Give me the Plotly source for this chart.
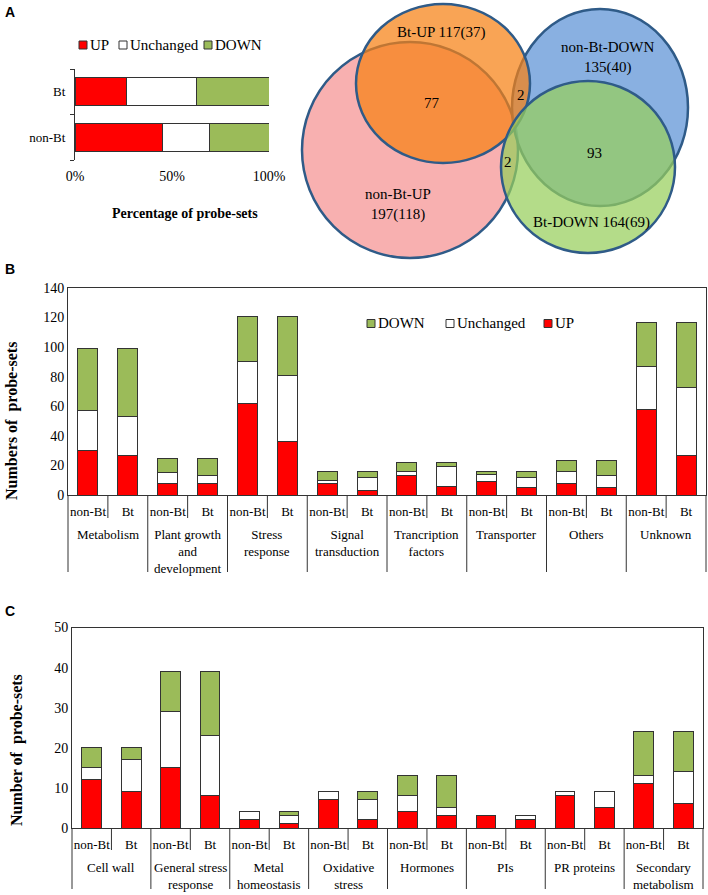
import plotly.graph_objects as go

# ---------------- data ----------------
# Panel A: percentage of probe-sets
a_cats = ["non-Bt", "Bt"]
a_up = [45.0, 26.4]
a_unch = [24.4, 36.3]
a_down = [30.6, 37.3]
a_ticks = [0, 50, 100]
a_ticktext = ["0%", "50%", "100%"]
series_names = ["UP", "Unchanged", "DOWN"]

# Venn diagram
venn_sets = ["non-Bt-UP", "Bt-UP", "non-Bt-DOWN", "Bt-DOWN"]
venn_totals = [197, 117, 135, 164]
venn_unique = [118, 37, 40, 69]
venn_overlaps = [77, 2, 93, 2]   # nonBtUP&BtUP, BtUP&nonBtDOWN, nonBtDOWN&BtDOWN, nonBtUP&BtDOWN

# Panel B
b_groups = ["Metabolism", "Plant growth<br>and<br>development", "Stress<br>response",
            "Signal<br>transduction", "Trancription<br>factors", "Transporter",
            "Others", "Unknown"]
subs = ["non-Bt", "Bt"]
b_up = [30, 27, 8, 8, 62, 36, 8, 3, 13, 6, 9, 5, 8, 5, 58, 27]
b_unch = [27, 26, 7, 5, 28, 45, 2, 9, 3, 13, 5, 7, 8, 8, 29, 46]
b_down = [42, 46, 10, 12, 31, 40, 6, 4, 6, 3, 2, 4, 7, 10, 30, 44]

# Panel C
c_groups = ["Cell wall", "General stress<br>response", "Metal<br>homeostasis",
            "Oxidative<br>stress", "Hormones", "PIs", "PR proteins",
            "Secondary<br>metabolism"]
c_up = [12, 9, 15, 8, 2, 1, 7, 2, 4, 3, 3, 2, 8, 5, 11, 6]
c_unch = [3, 8, 14, 15, 2, 2, 2, 5, 4, 2, 0, 1, 1, 4, 2, 8]
c_down = [5, 3, 10, 16, 0, 1, 0, 2, 5, 8, 0, 0, 0, 0, 11, 10]

# ---------------- style ----------------
W, H = 708, 895
RED, WHITE, GREEN = "#FF0000", "#FFFFFF", "#9BBB59"
COLORS = [RED, WHITE, GREEN]
EDGE = "#333333"
SERIF = "Liberation Serif, Times New Roman, serif"


def px_x(p):
    return p / W


def px_y(p):
    return 1 - p / H


fig = go.Figure()

# ---- Panel A bars ----
for name, vals, col in zip(series_names, [a_up, a_unch, a_down], COLORS):
    fig.add_trace(go.Bar(y=a_cats, x=vals, orientation="h", name=name, width=0.62,
                         marker=dict(color=col, line=dict(color=EDGE, width=1)),
                         xaxis="x", yaxis="y", showlegend=False))


def keys(groups):
    return [f"{g}|{s}" for g in groups for s in subs]


# ---- Panel B ----
bx = keys(b_groups)
for name, vals, col in zip(series_names, [b_up, b_unch, b_down], COLORS):
    fig.add_trace(go.Bar(x=bx, y=vals, name=name, width=0.5, showlegend=False,
                         marker=dict(color=col, line=dict(color=EDGE, width=1)),
                         xaxis="x2", yaxis="y2"))

# ---- Panel C ----
cx = keys(c_groups)
for name, vals, col in zip(series_names, [c_up, c_unch, c_down], COLORS):
    fig.add_trace(go.Bar(x=cx, y=vals, name=name, width=0.5, showlegend=False,
                         marker=dict(color=col, line=dict(color=EDGE, width=1)),
                         xaxis="x3", yaxis="y3"))

# dummy trace for Venn axes
fig.add_trace(go.Scatter(x=[None], y=[None], xaxis="x4", yaxis="y4", showlegend=False,
                         hoverinfo="skip"))

B_DOM = [px_x(68), px_x(706)]
C_DOM = [px_x(72), px_x(703)]


def cat_x(k, n=16):
    return dict(type="category", showline=True, linecolor=EDGE, linewidth=1, mirror=True,
                ticks="", range=[-0.5, n - 0.5], ticklabelstandoff=4, tickangle=0,
                automargin=False, tickvals=k, ticktext=subs * (len(k) // 2),
                tickfont=dict(family=SERIF, size=13, color="black"), showgrid=False)


fig.update_layout(
    width=W, height=H, margin=dict(l=0, r=0, t=0, b=0, autoexpand=False),
    paper_bgcolor="white", plot_bgcolor="white", barmode="stack", showlegend=False,
    font=dict(family=SERIF, size=13, color="black"),
    xaxis=dict(domain=[px_x(75), px_x(269)], anchor="y", range=[0, 100],
               tickvals=a_ticks, ticktext=a_ticktext, showline=False, ticks="",
               showgrid=False, zeroline=False, ticklabelstandoff=6, automargin=False,
               tickfont=dict(family=SERIF, size=14)),
    yaxis=dict(domain=[px_y(160), px_y(69)], anchor="x", type="category",
               showline=True, linecolor=EDGE, linewidth=1, ticks="outside",
               tickson="boundaries", ticklen=4, tickcolor=EDGE, ticklabelstandoff=6,
               automargin=False, tickfont=dict(family=SERIF, size=13)),
    xaxis2=dict(domain=B_DOM, anchor="y2", **cat_x(bx)),
    yaxis2=dict(domain=[px_y(495), px_y(288)], anchor="x2", range=[0, 140], dtick=20,
                showline=True, linecolor=EDGE, linewidth=1, mirror=True, ticks="",
                showgrid=False, zeroline=False, automargin=False,
                tickfont=dict(family=SERIF, size=14)),
    xaxis3=dict(domain=C_DOM, anchor="y3", **cat_x(cx)),
    yaxis3=dict(domain=[px_y(828), px_y(627.5)], anchor="x3", range=[0, 50], dtick=10,
                showline=True, linecolor=EDGE, linewidth=1, mirror=True, ticks="",
                showgrid=False, zeroline=False, automargin=False,
                tickfont=dict(family=SERIF, size=14)),
    xaxis4=dict(domain=[px_x(290), 1], anchor="y4", range=[290, 708], visible=False,
                automargin=False),
    yaxis4=dict(domain=[px_y(262), 1], anchor="x4", range=[262, 0], visible=False,
                automargin=False),
)


# ---- two-level category labels and dividers (B and C) ----
def group_axis(dom, groups, axis_y, short_end, long_end, label_top):
    n = 2 * len(groups)

    def xp(pos):
        return dom[0] + (pos + 0.5) / n * (dom[1] - dom[0])

    for i in range(len(groups) + 1):
        fig.add_shape(type="line", xref="paper", yref="paper", x0=xp(2 * i - 0.5),
                      x1=xp(2 * i - 0.5), y0=px_y(axis_y), y1=px_y(long_end),
                      line=dict(color=EDGE, width=1))
    for i, g in enumerate(groups):
        fig.add_shape(type="line", xref="paper", yref="paper", x0=xp(2 * i + 0.5),
                      x1=xp(2 * i + 0.5), y0=px_y(axis_y), y1=px_y(short_end),
                      line=dict(color=EDGE, width=1))
        fig.add_annotation(x=xp(2 * i + 0.5), y=px_y(label_top), xref="paper", yref="paper",
                           xanchor="center", yanchor="top", text=g, showarrow=False,
                           font=dict(family=SERIF, size=13))


group_axis(B_DOM, b_groups, 495, 518, 572, 525)
group_axis(C_DOM, c_groups, 828, 850, 889, 858)

# ---- legends (key squares + text) ----
legend_A = [(79, 45, 0), (119, 45, 1), (204, 45, 2)]           # square left x, y, series index
legend_B = [(367, 323.5, 2), (446, 323.5, 1), (544, 323.5, 0)]
for items in (legend_A, legend_B):
    for lx, ly, k in items:
        fig.add_shape(type="rect", xref="paper", yref="paper",
                      x0=px_x(lx), x1=px_x(lx + 8), y0=px_y(ly + 4), y1=px_y(ly - 4),
                      fillcolor=COLORS[k], line=dict(color=EDGE, width=1))
        fig.add_annotation(x=px_x(lx + 9), y=px_y(ly), xref="paper", yref="paper",
                           xanchor="left", yanchor="middle", text=series_names[k],
                           showarrow=False, font=dict(family=SERIF, size=15))

# ---- Venn shapes ----
OUT = "#2F5B88"
venn_shapes = [
    dict(x0=302, x1=518, y0=42, y1=258, fill="#F8B0B0"),                  # non-Bt-UP
    dict(x0=512, x1=688, y0=9, y1=206, fill="rgba(92,146,214,0.72)"),      # non-Bt-DOWN
    dict(x0=356, x1=530, y0=4, y1=163, fill="rgba(246,129,19,0.72)"),      # Bt-UP
    dict(x0=501, x1=675, y0=81, y1=253, fill="rgba(151,206,91,0.72)"),     # Bt-DOWN
]
for s in venn_shapes:
    fig.add_shape(type="circle", xref="x4", yref="y4", x0=s["x0"], x1=s["x1"], y0=s["y0"],
                  y1=s["y1"], fillcolor=s["fill"], line=dict(color=OUT, width=2.5), layer="above")

vfont = dict(family=SERIF, size=15, color="black")
venn_texts = [
    (441, 32, f"{venn_sets[1]} {venn_totals[1]}({venn_unique[1]})"),
    (607, 57, f"{venn_sets[2]}<br>{venn_totals[2]}({venn_unique[2]})"),
    (398, 204, f"{venn_sets[0]}<br>{venn_totals[0]}({venn_unique[0]})"),
    (591, 222, f"{venn_sets[3]} {venn_totals[3]}({venn_unique[3]})"),
    (432, 103, str(venn_overlaps[0])),
    (521, 95, str(venn_overlaps[1])),
    (594, 153, str(venn_overlaps[2])),
    (508, 162, str(venn_overlaps[3])),
]
for x, y, t in venn_texts:
    fig.add_annotation(x=x, y=y, xref="x4", yref="y4", xanchor="center", yanchor="middle",
                       text=t, showarrow=False, font=vfont)

# ---- titles & panel letters ----
fig.add_annotation(x=px_x(185), y=px_y(213), xref="paper", yref="paper",
                   xanchor="center", yanchor="middle",
                   text="<b>Percentage of probe-sets</b>", showarrow=False,
                   font=dict(family=SERIF, size=14))
fig.add_annotation(x=px_x(12), y=px_y(421), xref="paper", yref="paper",
                   xanchor="center", yanchor="middle",
                   text="<b>Numbers of\u00a0 probe-sets</b>", textangle=-90, showarrow=False,
                   font=dict(family=SERIF, size=16))
fig.add_annotation(x=px_x(17), y=px_y(750), xref="paper", yref="paper",
                   xanchor="center", yanchor="middle",
                   text="<b>Number of\u00a0 probe-sets</b>", textangle=-90, showarrow=False,
                   font=dict(family=SERIF, size=16))
for letter, yy in [("A", 12), ("B", 269), ("C", 611)]:
    fig.add_annotation(x=px_x(10), y=px_y(yy), xref="paper", yref="paper",
                       xanchor="center", yanchor="middle", text=f"<b>{letter}</b>",
                       showarrow=False, font=dict(family="Liberation Sans", size=14))

# the page's default 8px body margin would push the figure off its 708x895 window
fig.write_html("out.html", config={"displayModeBar": False},
               post_script="document.body.style.margin='0px';")
